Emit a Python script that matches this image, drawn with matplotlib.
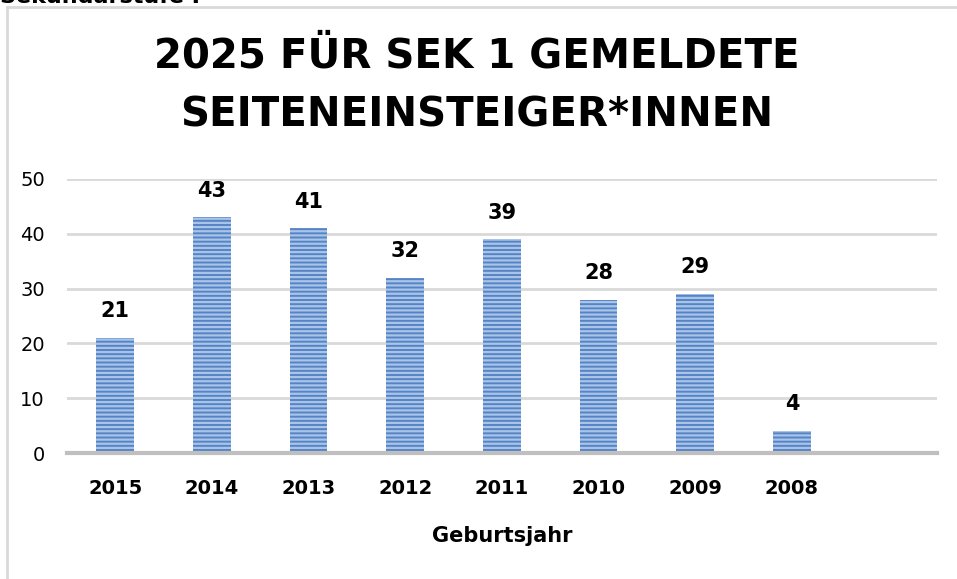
import matplotlib
matplotlib.use("Agg")
import matplotlib.pyplot as plt
from matplotlib.lines import Line2D

categories = ["2015", "2014", "2013", "2012", "2011", "2010", "2009", "2008", ""]
values = [21, 43, 41, 32, 39, 28, 29, 4, None]
title = "2025 FÜR SEK 1 GEMELDETE\nSEITENEINSTEIGER*INNEN"
xlabel = "Geburtsjahr"
yticks = [0, 10, 20, 30, 40, 50]
header = "Sekundarstufe I"

plt.rcParams['font.family'] = ['DejaVu Sans']
plt.rcParams['hatch.linewidth'] = 1.6

fig = plt.figure(figsize=(9.57, 5.79), dpi=100)
ax = fig.add_axes([0.070, 0.2176, 0.909, 0.4733])

xs = list(range(len(categories)))
vals = [v if v is not None else 0 for v in values]
ax.bar(xs, vals, width=0.39, color="#5584c6", zorder=2, linewidth=0)
ax.bar(xs, vals, width=0.39, facecolor="none", edgecolor="#aac4e8", hatch="----",
       linewidth=0, zorder=3)

for x, v in zip(xs, values):
    if v is None:
        continue
    ax.annotate(str(v), (x, v), xytext=(0, 12), textcoords="offset points",
                ha="center", va="bottom", fontsize=15, fontweight="bold", color="black")

ax.set_xlim(-0.5, len(categories) - 0.5)
ax.set_ylim(0, 50)
ax.set_yticks(yticks)
ax.set_xticks(xs)
ax.set_xticklabels(categories, fontsize=14, fontweight="bold")
ax.tick_params(axis="x", length=0, pad=19)
ax.tick_params(axis="y", length=0, pad=16, labelsize=14)
ax.grid(axis="y", color="#d9d9d9", linewidth=2, zorder=0)
ax.set_axisbelow(True)
for s in ["top", "right", "left"]:
    ax.spines[s].set_visible(False)
ax.spines["bottom"].set_color("#bfbfbf")
ax.spines["bottom"].set_linewidth(3)
ax.spines["bottom"].set_zorder(4)

ax.set_xlabel(xlabel, fontsize=15, fontweight="bold", labelpad=20)

fig.text(0.498, 1 - 86/579, title, ha="center", va="center", fontsize=29,
         fontweight="bold", linespacing=1.62)

# frame lines
fig.add_artist(Line2D([7/957, 7/957], [0, 1 - 7/579], color="#d9d9d9", linewidth=2,
                      transform=fig.transFigure))
fig.add_artist(Line2D([7/957, 1], [1 - 7/579, 1 - 7/579], color="#d9d9d9", linewidth=2,
                      transform=fig.transFigure))

fig.text(0.0, 1 - 3/579, header, ha="left", va="baseline", fontsize=16, fontweight="bold")

fig.savefig("out.png", dpi=100)
